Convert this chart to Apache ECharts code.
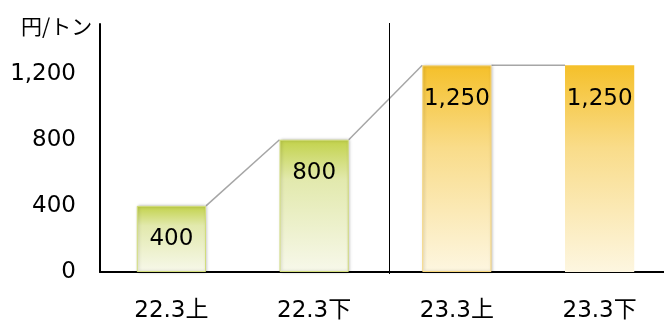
<!DOCTYPE html>
<html><head><meta charset="utf-8">
<script src="https://cdn.jsdelivr.net/npm/echarts@6/dist/echarts.min.js"></script>
<style>html,body{margin:0;padding:0;background:#fff}#c{width:664px;height:321px}</style>
</head><body><div id="c"></div>
<script>
const categories = ['22.3上', '22.3下', '23.3上', '23.3下'];
const prices = [400, 800, 1250, 1250];
const yTicks = [0, 400, 800, 1200];
const unitLabel = '円/トン';

const FONT = '"DejaVu Sans", Verdana, "Noto Sans CJK JP", sans-serif';
const BAR_FRAC = 0.485;

const green = new echarts.graphic.LinearGradient(0, 0, 0, 1, [
  {offset: 0, color: '#c2d24a'},
  {offset: 0.3, color: '#e2e9ad'},
  {offset: 1, color: '#f7f8ea'}
]);
const gold = () => new echarts.graphic.LinearGradient(0, 0, 0, 1, [
  {offset: 0, color: '#f5c02a'},
  {offset: 0.4, color: '#f9dc8a'},
  {offset: 1, color: '#fdf6e0'}
]);
const styles = [
  {color: green, borderColor: '#d3de7c', borderWidth: 1, shadowBlur: 3, shadowColor: 'rgba(0,0,0,0.25)', shadowOffsetX: 1},
  {color: green, borderColor: '#d3de7c', borderWidth: 1, shadowBlur: 3, shadowColor: 'rgba(0,0,0,0.25)', shadowOffsetX: 1},
  {color: gold(), borderColor: '#f8d77c', borderWidth: 1, shadowBlur: 3, shadowColor: 'rgba(0,0,0,0.25)', shadowOffsetX: 1},
  {color: gold()}
];

const chart = echarts.init(document.getElementById('c'), null, {renderer: 'canvas'});
chart.setOption({
  animation: false,
  title: {text: unitLabel, left: 16, top: 11, textStyle: {fontFamily: '"Noto Sans CJK JP", sans-serif', fontSize: 21, fontWeight: 'normal', color: '#000'}},
  grid: {left: 100, top: 24, width: 571, height: 248, containLabel: false, outerBoundsMode: 'none'},
  xAxis: {
    type: 'category', data: categories,
    axisLine: {lineStyle: {color: '#000', width: 2}},
    axisTick: {show: false},
    axisLabel: {color: '#000', fontFamily: FONT, fontSize: 23, margin: 28}
  },
  yAxis: {
    type: 'value', min: 0, max: 1500, interval: 400,
    axisLine: {show: true, lineStyle: {color: '#000', width: 2}},
    axisTick: {show: false},
    splitLine: {show: false},
    axisLabel: {showMaxLabel: false, color: '#000', fontFamily: FONT, fontSize: 23, margin: 24, padding: [6, 0, 0, 0],
      formatter: v => yTicks.includes(v) ? v.toLocaleString('en-US') : ''}
  },
  series: [
    {
      type: 'bar', barWidth: (BAR_FRAC * 100) + '%',
      data: prices.map((v, i) => ({value: v, itemStyle: styles[i]})),
      label: {show: true, position: 'insideTop', distance: 22, color: '#000', fontFamily: FONT, fontSize: 23,
        formatter: p => p.value.toLocaleString('en-US')},
      z: 2
    },
    {
      type: 'custom',
      data: prices.slice(0, -1).map((v, i) => [i, v, prices[i + 1]]),
      renderItem: (params, api) => {
        const i = api.value(0);
        const a = api.coord([i, api.value(1)]);
        const b = api.coord([i + 1, api.value(2)]);
        const half = api.size([1, 0])[0] * BAR_FRAC / 2;
        return {type: 'line', shape: {x1: a[0] + half, y1: a[1], x2: b[0] - half, y2: b[1]},
          style: {stroke: '#a6a6a6', lineWidth: 1.5}};
      },
      z: 1, silent: true
    }
  ]
});
const x1 = chart.convertToPixel({xAxisIndex: 0}, 1);
const x2 = chart.convertToPixel({xAxisIndex: 0}, 2);
const xd = Math.round((x1 + x2) / 2 + 3.5) + 0.5;
chart.setOption({graphic: [{type: 'line', shape: {x1: xd, y1: 23, x2: xd, y2: 274}, style: {stroke: '#000', lineWidth: 1}, z: 10}]});
</script></body></html>
